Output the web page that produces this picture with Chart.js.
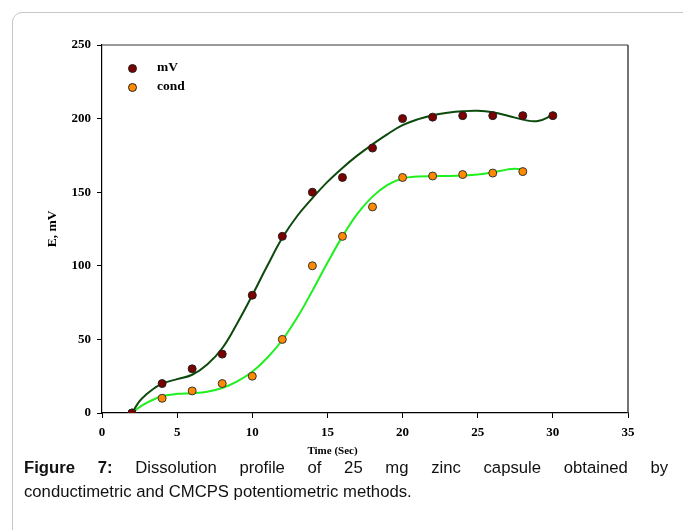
<!DOCTYPE html>
<html>
<head>
<meta charset="utf-8">
<script src="https://cdn.jsdelivr.net/npm/chart.js@4.4.0/dist/chart.umd.min.js"></script>
<style>
  html, body { margin: 0; padding: 0; background: #fff; }
  body { width: 683px; height: 530px; position: relative; overflow: hidden; }
  #frame {
    position: absolute; left: 12px; top: 12px; width: 720px; height: 560px;
    border: 1.5px solid #c6c6c6; border-radius: 10px; box-sizing: border-box;
  }
  #chart { position: absolute; left: 0; top: 0; }
  .legend-item {
    position: absolute; left: 128px; height: 10px;
    font: bold 13.5px "Liberation Serif", "Times New Roman", serif; color: #000;
  }
  .legend-item .dot {
    position: absolute; left: 0; top: 1px; width: 7px; height: 7px;
    border: 1px solid #222; border-radius: 50%;
  }
  .legend-item .lbl { position: absolute; left: 29px; top: -4px; white-space: nowrap; line-height: 16px; }
  #caption {
    position: absolute; left: 24px; top: 456px; width: 644px;
    font: 16.7px "Liberation Sans", Arial, sans-serif; color: #111; line-height: 24px;
  }
  #caption .l1 { text-align: justify; text-align-last: justify; white-space: nowrap; }
</style>
</head>
<body>
<div id="frame"></div>
<canvas id="chart" width="683" height="460"></canvas>
<div class="legend-item" style="top:63px"><span class="dot" style="background:#7b0000"></span><span class="lbl">mV</span></div>
<div class="legend-item" style="top:82px"><span class="dot" style="background:#ff8a00"></span><span class="lbl">cond</span></div>
<div id="caption">
  <div class="l1"><b>Figure 7:</b> Dissolution profile of 25 mg zinc capsule obtained by</div>
  <div>conductimetric and CMCPS potentiometric methods.</div>
</div>
<script>
// 測定点
const mvTime = [2, 4, 6, 8, 10, 12, 14, 16, 18, 20, 22, 24, 26, 28, 30];
const mvValues = [0, 20, 30, 40, 80, 120, 150, 160, 180, 200, 201, 202, 202, 202, 202];
const condTime = [2, 4, 6, 8, 10, 12, 14, 16, 18, 20, 22, 24, 26, 28];
const condValues = [0, 10, 15, 20, 25, 50, 100, 120, 140, 160, 161, 162, 163, 164];

// 近似曲線
const mvFitTime = [2, 2.5, 3, 3.5, 4, 5, 6, 7, 8, 9, 10, 11, 12, 13, 14, 15, 16, 17, 18, 19, 20, 21, 22, 23, 24, 25, 26, 27, 28, 29, 30];
const mvFitValues = [0, 8, 13, 17, 20, 23, 26, 33, 44, 61, 80, 100, 119, 134, 146, 157, 166.5, 175, 182.5, 189.5, 195.5, 199.5, 202.3, 204, 205, 205.3, 204.3, 202, 199.3, 198.3, 202.5];
const condFitTime = [2, 2.5, 3, 3.5, 4, 5, 6, 7, 8, 9, 10, 11, 12, 13, 14, 15, 16, 17, 18, 19, 20, 21, 22, 23, 24, 25, 26, 27, 27.5, 28];
const condFitValues = [0, 4, 7, 9.5, 11.5, 13, 13.5, 14.5, 17, 21.5, 28, 37.5, 49.6, 65, 83, 102, 120, 135.5, 147, 155, 159.3, 160.6, 160.9, 161, 161.3, 162, 163.5, 165.5, 166, 165.3];

// 軸
const xTicks = [0, 5, 10, 15, 20, 25, 30, 35];
const yTicks = [0, 50, 100, 150, 200, 250];

const toPoints = (xs, ys) => xs.map((x, i) => ({ x: x, y: ys[i] }));
const tickFont = { family: '"Liberation Serif", "Times New Roman", serif', size: 13, weight: 'bold' };

// 枠線と x 軸タイトル
const framePlugin = {
    id: 'framePlugin',
    afterDraw(chart) {
        const { ctx, chartArea } = chart;
        ctx.save();
        ctx.lineWidth = 1.5;
        ctx.strokeStyle = '#777';
        ctx.beginPath();
        ctx.moveTo(chartArea.left, chartArea.top);
        ctx.lineTo(chartArea.right, chartArea.top);
        ctx.stroke();
        ctx.strokeStyle = '#444';
        ctx.beginPath();
        ctx.moveTo(chartArea.right, chartArea.top);
        ctx.lineTo(chartArea.right, chartArea.bottom);
        ctx.stroke();

        ctx.fillStyle = '#000';
        ctx.font = 'bold 11px "Liberation Serif", "Times New Roman", serif';
        ctx.textAlign = 'center';
        ctx.textBaseline = 'middle';
        ctx.fillText('Time (Sec)', 332.5, 451);
        ctx.restore();
    }
};

const ctx = document.getElementById('chart').getContext('2d');
const chart = new Chart(ctx, {
    type: 'scatter',
    data: {
        datasets: [{
            label: 'mV',
            data: toPoints(mvTime, mvValues),
            backgroundColor: '#7b0000',
            borderColor: '#222',
            borderWidth: 1,
            pointRadius: 4
        }, {
            label: 'cond',
            data: toPoints(condTime, condValues),
            backgroundColor: '#ff8a00',
            borderColor: '#333',
            borderWidth: 1,
            pointRadius: 4
        }, {
            label: 'mV fit',
            data: toPoints(mvFitTime, mvFitValues),
            showLine: true,
            borderColor: '#0c4a0c',
            borderWidth: 2,
            pointRadius: 0,
            tension: 0.4
        }, {
            label: 'cond fit',
            data: toPoints(condFitTime, condFitValues),
            showLine: true,
            borderColor: '#1fef1f',
            borderWidth: 2,
            pointRadius: 0,
            tension: 0.4
        }]
    },
    options: {
        responsive: false,
        animation: false,
        devicePixelRatio: 1,
        layout: { padding: { top: 45, right: 55, left: 0, bottom: 0 } },
        plugins: {
            legend: { display: false },
            tooltip: { enabled: false }
        },
        scales: {
            x: {
                type: 'linear',
                min: 0,
                max: 35,
                afterBuildTicks: scale => { scale.ticks = xTicks.map(v => ({ value: v })); },
                afterFit: scale => { scale.height = 47; },
                grid: { display: true, drawOnChartArea: false, drawTicks: true, tickLength: 5, color: '#000' },
                border: { display: true, color: '#000', width: 1.2 },
                ticks: { color: '#000', font: tickFont, padding: 7, maxRotation: 0 }
            },
            y: {
                type: 'linear',
                min: 0,
                max: 250,
                afterBuildTicks: scale => { scale.ticks = yTicks.map(v => ({ value: v })); },
                afterFit: scale => { scale.width = 102; },
                grid: { display: true, drawOnChartArea: false, drawTicks: true, tickLength: 5, color: '#000' },
                border: { display: true, color: '#000', width: 1.2 },
                ticks: { color: '#000', font: tickFont, padding: 6 },
                title: {
                    display: true,
                    text: 'E, mV',
                    color: '#000',
                    font: { family: '"Liberation Serif", "Times New Roman", serif', size: 13.5, weight: 'bold' },
                    padding: { top: 44, bottom: 0 }
                }
            }
        }
    },
    plugins: [framePlugin]
});
</script>
</body>
</html>
